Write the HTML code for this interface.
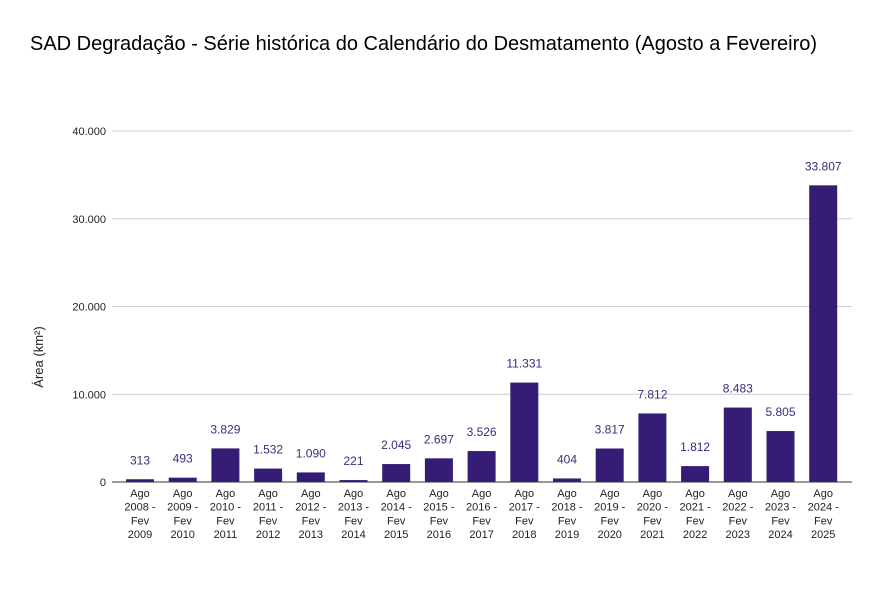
<!DOCTYPE html>
<html><head><meta charset="utf-8"><style>
body{margin:0;background:#fff;font-family:"Liberation Sans",Arial,sans-serif;}
</style></head><body>
<svg width="881" height="599" xmlns="http://www.w3.org/2000/svg" font-family="Liberation Sans, Arial, sans-serif">
<rect width="881" height="599" fill="#fff"/>
<text x="30" y="50" font-size="20" fill="#000">SAD Degradação - Série histórica do Calendário do Desmatamento (Agosto a Fevereiro)</text>
<text transform="translate(43,357) rotate(-90)" text-anchor="middle" font-size="13" fill="#222">Área (km²)</text>
<g id="grid"></g><g id="bars"></g>
</svg>
<script>
const categories=["2008","2009","2010","2011","2012","2013","2014","2015","2016","2017","2018","2019","2020","2021","2022","2023","2024"];
const values=[313,493,3829,1532,1090,221,2045,2697,3526,11331,404,3817,7812,1812,8483,5805,33807];
const yTicks=[0,10000,20000,30000,40000];
const NS="http://www.w3.org/2000/svg";
const y0=482,pxPer=(482-131)/40000,x0=140,step=42.7,bw=28;
const y=v=>y0-v*pxPer, x=i=>x0+i*step;
const fmt=v=>v.toLocaleString('de-DE');
function mk(t,a,p){const e=document.createElementNS(NS,t);for(const k in a)e.setAttribute(k,a[k]);p.appendChild(e);return e;}
const g=document.getElementById('grid'),b=document.getElementById('bars');
yTicks.forEach(t=>{
 const l=mk('line',{x1:112,x2:852,y1:y(t),y2:y(t),stroke:t===0?'#333':'#ccc','stroke-width':1},g);
 
 
 const tx=mk('text',{x:106,y:y(t)+4,'text-anchor':'end','font-size':11,fill:'#222'},g);
 tx.textContent=fmt(t);
 
 
});
values.forEach((v,i)=>{
 const r=mk('rect',{x:x(i)-bw/2,y:y(v),width:bw,height:y0-y(v),fill:'#351c75'},b);
 
 
 const t=mk('text',{x:x(i),y:y(v)-15,'text-anchor':'middle','font-size':12,fill:'#3d2b7a'},b);
 t.textContent=fmt(v);
 
 
 const yr=+categories[i];
 const lines=["Ago",yr+" -","Fev",String(yr+1)];
 lines.forEach((s,j)=>{
  const c=mk('text',{x:x(i),y:497+j*13.7,'text-anchor':'middle','font-size':11,fill:'#222'},b);
  c.textContent=s;
  
  
 });
});
const ax=mk('line',{x1:112,x2:852,y1:y0,y2:y0,stroke:'#333','stroke-width':1},b);


</script>
</body></html>
